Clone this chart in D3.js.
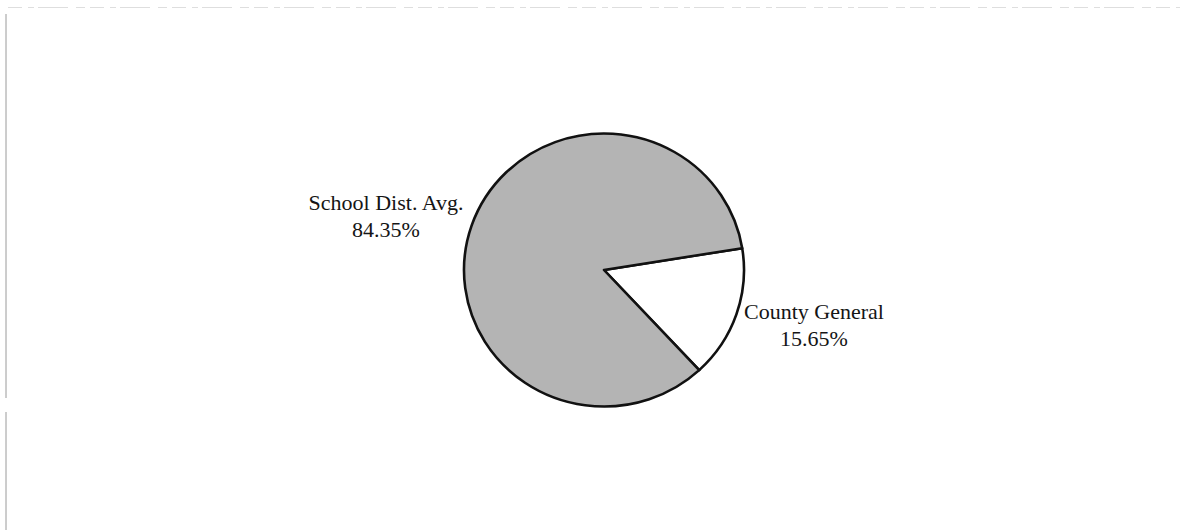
<!DOCTYPE html>
<html>
<head>
<meta charset="utf-8">
<script src="https://cdn.jsdelivr.net/npm/d3@7"></script>
<style>
  body { margin: 0; background: #fff; }
  svg { display: block; }
  .label { font-family: "Liberation Serif", "Times New Roman", serif; font-size: 22px; fill: #151515; }
</style>
</head>
<body>
<script>
// data
var categories = ["County General", "School Dist. Avg."];
var shares = [15.65, 84.35];
var shareLabels = ["15.65%", "84.35%"];
var sliceColors = ["#ffffff", "#b4b4b4"];

var width = 1185, height = 530;
var cx = 604, cy = 270, radius = 140;

var svg = d3.select("body").append("svg")
    .attr("width", width)
    .attr("height", height);

// scan edge on the left and faint top edge
svg.append("line")
    .attr("x1", 6).attr("x2", 6).attr("y1", 14).attr("y2", 398)
    .attr("stroke", "#9a9a9a").attr("stroke-width", 1);
svg.append("line")
    .attr("x1", 6).attr("x2", 6).attr("y1", 412).attr("y2", 530)
    .attr("stroke", "#9a9a9a").attr("stroke-width", 1);
svg.append("line")
    .attr("x1", 8).attr("x2", 1180).attr("y1", 7.5).attr("y2", 7.5)
    .attr("stroke", "#dedede").attr("stroke-width", 1)
    .attr("stroke-dasharray", "14,6,6,4,30,8,9,5");

// pie: County slice starts a bit above 3 o'clock
var startAngle = 80.8 * Math.PI / 180;
var pie = d3.pie()
    .sort(null)
    .value(function(d) { return d; })
    .startAngle(startAngle)
    .endAngle(startAngle + 2 * Math.PI);

var arc = d3.arc()
    .innerRadius(0)
    .outerRadius(radius);

var g = svg.append("g")
    .attr("transform", "translate(" + cx + "," + cy + ") scale(1,0.975)");

g.selectAll("path.slice")
    .data(pie(shares))
  .enter().append("path")
    .attr("class", "slice")
    .attr("d", arc)
    .attr("fill", function(d, i) { return sliceColors[i]; })
    .attr("stroke", "#111")
    .attr("stroke-width", 2.6)
    .attr("stroke-linejoin", "round");

// labels sit outside their slice
var labelOffset = [[210, 55], [-218, -54]];

var labels = svg.selectAll("text.label")
    .data(categories)
  .enter().append("text")
    .attr("class", "label")
    .attr("text-anchor", "middle")
    .attr("transform", function(d, i) {
        return "translate(" + (cx + labelOffset[i][0]) + "," + (cy + labelOffset[i][1]) + ")";
    });

labels.append("tspan")
    .attr("x", 0).attr("y", -6)
    .text(function(d) { return d; });
labels.append("tspan")
    .attr("x", 0).attr("y", 21)
    .text(function(d, i) { return shareLabels[i]; });
</script>
</body>
</html>
